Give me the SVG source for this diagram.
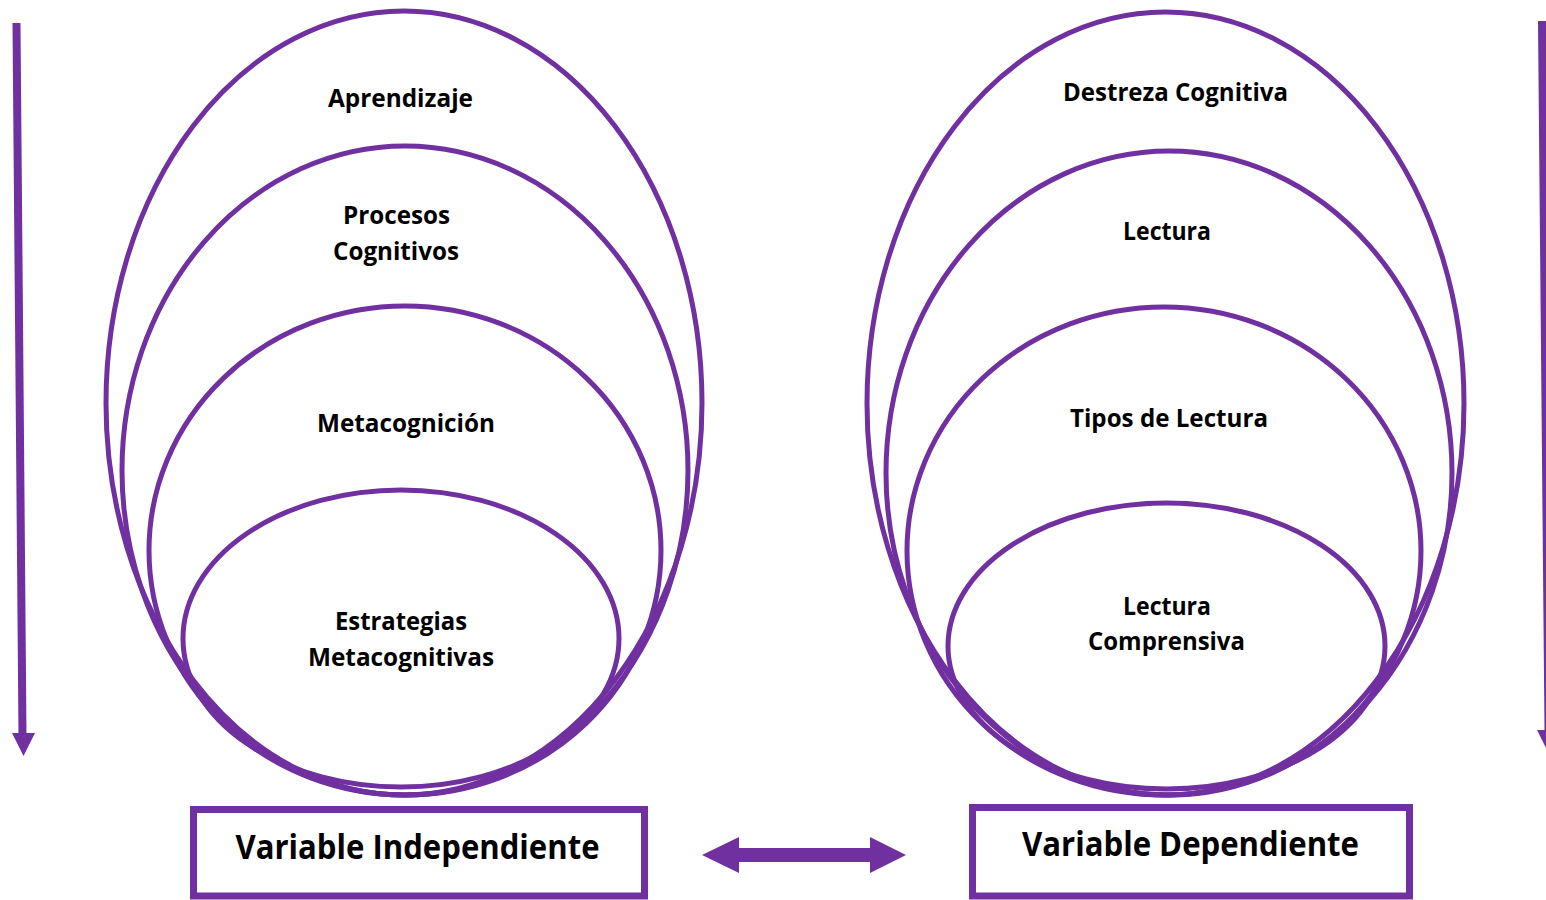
<svg xmlns="http://www.w3.org/2000/svg" width="1546" height="900" viewBox="0 0 1546 900">
<style>
.ell{fill:none;stroke:#7030A0;stroke-width:5}
.box{fill:#ffffff;stroke:#7030A0;stroke-width:7}
.lbl{font-family:"Open Sans","Noto Sans","Liberation Sans",sans-serif;font-weight:700;font-size:25px;fill:#000;text-anchor:middle}
.big{font-size:34px}
.arrowfill{fill:#7030A0;stroke:none}
</style>
<rect x="0" y="0" width="1546" height="900" fill="#ffffff"/>
<g id="left-set">
<g id="n-aprendizaje"><ellipse class="ell" cx="404" cy="403" rx="298" ry="392"/><text class="lbl" x="400.5" y="106.5" textLength="145" lengthAdjust="spacingAndGlyphs">Aprendizaje</text></g>
<g id="n-procesos"><ellipse class="ell" cx="405" cy="470.5" rx="283" ry="324.5"/><text class="lbl" x="396.5" y="224" textLength="107" lengthAdjust="spacingAndGlyphs">Procesos</text><text class="lbl" x="396" y="260" textLength="126" lengthAdjust="spacingAndGlyphs">Cognitivos</text></g>
<g id="n-metacognicion"><ellipse class="ell" cx="405" cy="550.5" rx="256" ry="244.5"/><text class="lbl" x="406" y="432" textLength="178" lengthAdjust="spacingAndGlyphs">Metacognición</text></g>
<g id="n-estrategias"><ellipse class="ell" cx="401" cy="638.5" rx="218" ry="148.5"/><text class="lbl" x="401" y="630" textLength="132" lengthAdjust="spacingAndGlyphs">Estrategias</text><text class="lbl" x="401" y="665.5" textLength="186" lengthAdjust="spacingAndGlyphs">Metacognitivas</text></g>
</g>
<g id="right-set">
<g id="n-destreza"><ellipse class="ell" cx="1165.5" cy="403.5" rx="298.5" ry="391.5"/><text class="lbl" x="1175.5" y="100.5" textLength="225" lengthAdjust="spacingAndGlyphs">Destreza Cognitiva</text></g>
<g id="n-lectura"><ellipse class="ell" cx="1169" cy="473" rx="283" ry="322"/><text class="lbl" x="1167" y="240" textLength="88" lengthAdjust="spacingAndGlyphs">Lectura</text></g>
<g id="n-tipos"><ellipse class="ell" cx="1164" cy="551" rx="257" ry="244"/><text class="lbl" x="1169" y="426.5" textLength="198" lengthAdjust="spacingAndGlyphs">Tipos de Lectura</text></g>
<g id="n-comprensiva"><ellipse class="ell" cx="1166.5" cy="646" rx="218.5" ry="143"/><text class="lbl" x="1167" y="615" textLength="88" lengthAdjust="spacingAndGlyphs">Lectura</text><text class="lbl" x="1166.5" y="650" textLength="157" lengthAdjust="spacingAndGlyphs">Comprensiva</text></g>
</g>
<g id="n-var-indep"><rect class="box" x="193.5" y="809.5" width="451" height="86.5"/><text class="lbl big" x="417.5" y="858.5" textLength="364" lengthAdjust="spacingAndGlyphs">Variable Independiente</text></g>
<g id="n-var-dep"><rect class="box" x="972.5" y="807.5" width="437" height="88.5"/><text class="lbl big" x="1190.5" y="856" textLength="337" lengthAdjust="spacingAndGlyphs">Variable Dependiente</text></g>
<g id="connectors">
<polygon class="arrowfill" points="702,855 739,837 739,848 870,848 870,837 906,855 870,873 870,862 739,862 739,873"/>
<line x1="16.5" y1="23" x2="22.5" y2="735" stroke="#7030A0" stroke-width="8"/>
<polygon class="arrowfill" points="12,733 35,733 23.5,756"/>
<line x1="1542" y1="21" x2="1548.5" y2="732" stroke="#7030A0" stroke-width="8"/>
<polygon class="arrowfill" points="1537,730 1560,730 1548.5,753"/>
</g>
</svg>
